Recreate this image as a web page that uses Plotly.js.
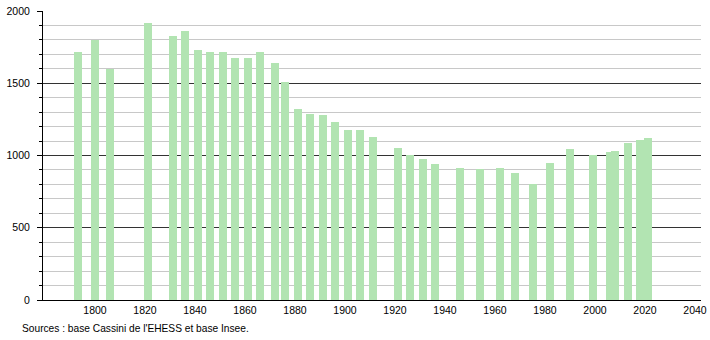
<!DOCTYPE html>
<html><head><meta charset="utf-8">
<script src="https://cdn.plot.ly/plotly-3.0.1.min.js"></script>
<style>html,body{margin:0;padding:0;background:#fff}#chart{width:710px;height:340px}</style>
</head><body><div id="chart"></div>
<script>
const years = [1793,1800,1806,1821,1831,1836,1841,1846,1851,1856,1861,1866,1872,1876,1881,1886,1891,1896,1901,1906,1911,1921,1926,1931,1936,1946,1954,1962,1968,1975,1982,1990,1999,2006,2008,2013,2018,2021];
const population = [1713,1802,1600,1915,1824,1865,1727,1715,1715,1672,1672,1715,1637,1512,1319,1284,1277,1229,1174,1174,1125,1054,1001,973,943,916,909,916,876,805,945,1042,1001,1021,1028,1088,1104,1123];
const xTicks = [1800,1820,1840,1860,1880,1900,1920,1940,1960,1980,2000,2020,2040];
const yTicks = [0,500,1000,1500,2000];
const sourceText = "Sources : base Cassini de l'EHESS et base Insee.";

const font = {family: 'Liberation Sans, Arial, sans-serif', size: 10.5, color: '#000'};
Plotly.newPlot('chart', [{
  type: 'bar', x: years, y: population, width: 3.2,
  marker: {color: 'rgb(178,228,178)', line: {width: 0}},
  hoverinfo: 'x+y'
}], {
  width: 710, height: 340,
  margin: {l: 43, r: 9, t: 11, b: 40},
  paper_bgcolor: '#fff', plot_bgcolor: '#fff',
  showlegend: false, bargap: 0,
  font: font,
  xaxis: {
    range: [1779.2, 2042.4], tickvals: xTicks, ticktext: xTicks.map(String),
    showgrid: false, zeroline: false, showline: true, linecolor: '#000', linewidth: 1,
    ticks: '', tickfont: font, fixedrange: true
  },
  yaxis: {
    range: [0, 2000], tickvals: yTicks, ticktext: yTicks.map(String),
    showgrid: true, gridcolor: '#333', gridwidth: 1,
    zeroline: false, showline: true, linecolor: '#000', linewidth: 1,
    ticks: 'outside', ticklen: 5, tickcolor: '#000', ticklabelstandoff: 5,
    minor: {dtick: 100, showgrid: true, gridcolor: '#c8c8c8', gridwidth: 1, ticks: 'outside', ticklen: 3, tickcolor: '#000'},
    tickfont: font, fixedrange: true
  },
  annotations: [{
    text: sourceText, xref: 'paper', yref: 'paper', x: -43/658, y: -28/289,
    xanchor: 'left', yanchor: 'middle', showarrow: false,
    font: {family: font.family, size: 10.2, color: '#000'}, xshift: 20
  }]
}, {staticPlot: true});
</script></body></html>
